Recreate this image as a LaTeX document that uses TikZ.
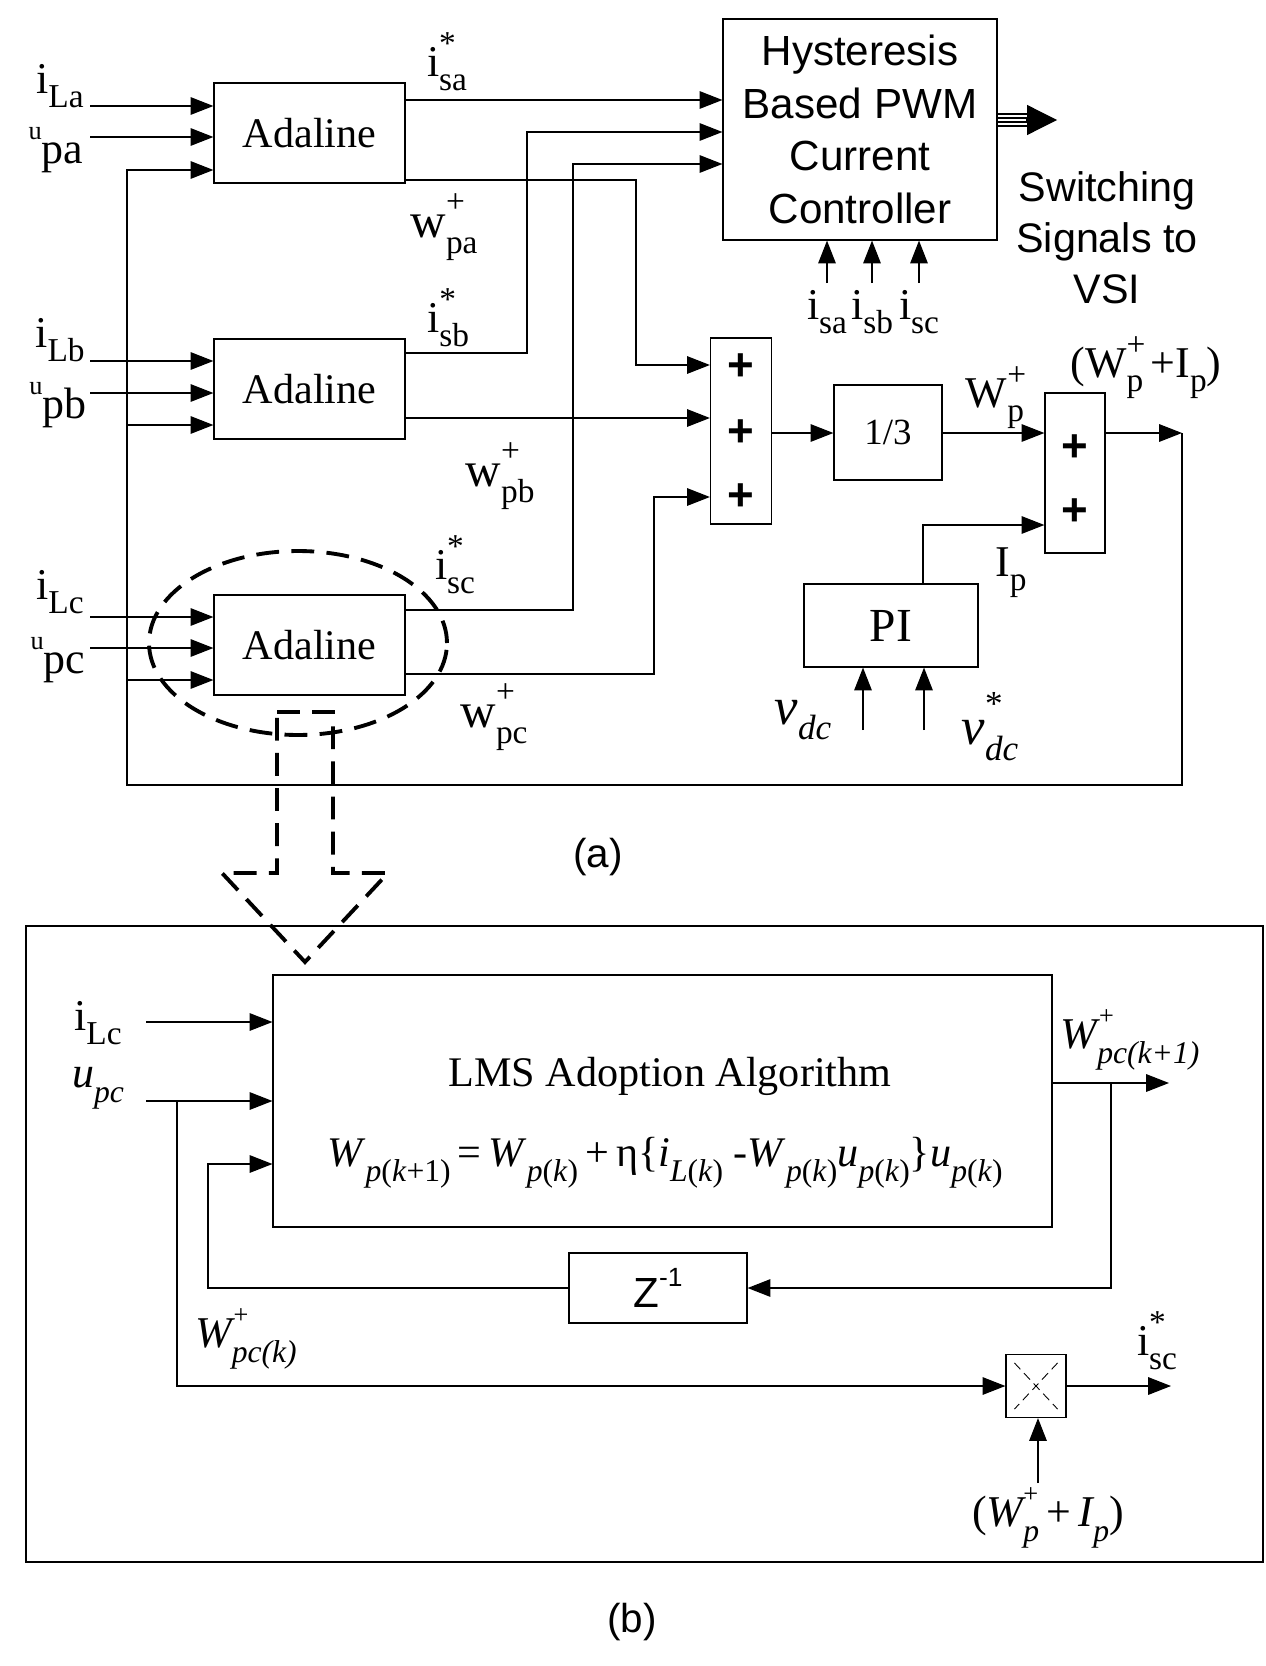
\documentclass[tikz,border=0pt]{standalone}
\usepackage{fontspec}
\setmainfont{Liberation Serif}
\newfontfamily\arialfont{Liberation Sans}
\usepackage{tikz}
\usetikzlibrary{arrows.meta,calc}
% signal names: base, raised mark, lowered index
\newcommand{\sigsub}[2]{#1\raisebox{-0.32em}{\fontsize{19}{19}\selectfont #2}}
\newcommand{\sigboth}[3]{#1\rlap{\raisebox{0.5em}{\fontsize{19}{19}\selectfont #2}}\raisebox{-0.32em}{\fontsize{19}{19}\selectfont #3}}
\newcommand{\fsub}[1]{\raisebox{-0.35em}{\fontsize{18}{18}\selectfont #1}}
\newcommand{\fsup}[1]{\rlap{\raisebox{0.55em}{\fontsize{15}{15}\selectfont #1}}}
\newcommand{\usig}[1]{{\fontsize{15}{15}\selectfont u}\raisebox{-0.55em}{#1}}

\begin{document}
\begin{tikzpicture}[x=0.02cm,y=-0.02cm,line width=0.7pt,
    >={Triangle[length=13pt,width=10pt]}]
  \tikzstyle{adalinebox}=[draw,minimum width=3.82cm,minimum height=2cm,
    font=\fontsize{24}{24}\selectfont]
  \tikzstyle{sumbox}=[draw,minimum width=1.22cm]
  \tikzstyle{plusmark}=[inner sep=0pt,font=\arialfont\bfseries\fontsize{26}{26}\selectfont]
  \tikzstyle{siglabel}=[inner sep=0pt,font=\fontsize{25}{25}\selectfont]
  \tikzstyle{bigdash}=[line width=2.2pt,dash pattern=on 13pt off 7pt]
  \useasboundingbox (0,0) rectangle (1266,1666);

  % ---------------- (a) ----------------
  \node[adalinebox] (adA) at (309.5,133) {Adaline};
  \node[adalinebox] (adB) at (309.5,389) {Adaline};
  \node[adalinebox] (adC) at (309.5,645) {Adaline};
  \node[draw,minimum width=5.48cm,minimum height=4.42cm,align=center,
    font=\arialfont\fontsize{24}{30}\selectfont] (hyst) at (860,129.5)
    {Hysteresis\\Based PWM\\Current\\Controller};
  \node[sumbox,minimum height=3.72cm] (sumA) at (741,431) {};
  \node[draw,minimum width=2.16cm,minimum height=1.9cm,
    font=\fontsize{21}{21}\selectfont] (third) at (888,432.5) {1/3};
  \node[sumbox,minimum width=1.2cm,minimum height=3.2cm] (sumB) at (1075,473) {};
  \node[draw,minimum width=3.48cm,minimum height=1.66cm,
    font=\fontsize{27}{27}\selectfont] (pi) at (891,625.5) {PI};

  \node[plusmark] (pA1) at (741,367) {+};
  \node[plusmark] (pA2) at (741,433) {+};
  \node[plusmark] (pA3) at (741,497) {+};
  \node[plusmark] (pB1) at (1075,448) {+};
  \node[plusmark] (pB2) at (1075,512) {+};

  % inputs of the three Adalines
  \node[siglabel] (iLa) at (60,86) {\sigsub{i}{La}};
  \node[siglabel] (upa) at (56,150) {\usig{pa}};
  \node[siglabel] (iLb) at (60,340) {\sigsub{i}{Lb}};
  \node[siglabel] (upb) at (58,405) {\usig{pb}};
  \node[siglabel] (iLc) at (60,592) {\sigsub{i}{Lc}};
  \node[siglabel] (upc) at (58,660) {\usig{pc}};
  \draw[->] (90,106) -- (adA.west |- 0,106);
  \draw[->] (90,137) -- (adA.west |- 0,137);
  \draw[->] (90,361) -- (adB.west |- 0,361);
  \draw[->] (90,393) -- (adB.west |- 0,393);
  \draw[->] (90,617) -- (adC.west |- 0,617);
  \draw[->] (90,648) -- (adC.west |- 0,648);

  % feedback bus
  \coordinate (fbk) at (1182,433);
  \coordinate (busR) at (1182,785);
  \coordinate (busL) at (127,785);
  \draw[->] (sumB.east |- fbk) -- (fbk);
  \draw[->] (fbk) -- (busR) -- (busL) -- (127,170) -- (adA.west |- 0,170);
  \draw[->] (127,425) -- (adB.west |- 0,425);
  \draw[->] (127,680) -- (adC.west |- 0,680);

  % Adaline outputs
  \draw[->] (adA.east |- 0,100) -- (hyst.west |- 0,100);
  \draw[->] (adA.east |- 0,180) -- (636,180) -- (636,365) -- (sumA.west |- 0,365);
  \draw[->] (adB.east |- 0,353) -- (527,353) -- (527,132) -- (hyst.west |- 0,132);
  \draw[->] (adB.east |- 0,418) -- (sumA.west |- 0,418);
  \draw[->] (adC.east |- 0,610) -- (573,610) -- (573,164) -- (hyst.west |- 0,164);
  \draw[->] (adC.east |- 0,674) -- (654,674) -- (654,497) -- (sumA.west |- 0,497);
  \node[siglabel] (lisa) at (447,62) {\sigboth{i}{*}{sa}};
  \node[siglabel] (lisb) at (448,318) {\sigboth{i}{*}{sb}};
  \node[siglabel] (lisc) at (455,565) {\sigboth{i}{*}{sc}};
  \node[siglabel,font=\fontsize{28}{28}\selectfont] (lwpa) at (444,227) {\sigboth{w}{+}{pa}};
  \node[siglabel,font=\fontsize{28}{28}\selectfont] (lwpb) at (500,476) {\sigboth{w}{+}{pb}};
  \node[siglabel,font=\fontsize{28}{28}\selectfont] (lwpc) at (494,717) {\sigboth{w}{+}{pc}};

  % summing chain
  \draw[->] (sumA.east |- 0,433) -- (third.west |- 0,433);
  \draw[->] (third.east |- 0,433) -- (sumB.west |- 0,433);
  \draw[->] (pi.north -| 923,0) -- (923,525) -- (sumB.west |- 0,525);
  \node[siglabel] (lwp) at (995,398) {\sigboth{W}{+}{p}};
  \node[siglabel] (lwi) at (1146,368) {(\sigboth{W}{+}{p}\,+I\raisebox{-0.32em}{\fontsize{19}{19}\selectfont p})};
  \node[siglabel] (lip) at (1011,573) {\sigsub{I}{p}};

  % dc link voltage
  \coordinate (vdcin) at (863,730);
  \coordinate (vrefin) at (924,730);
  \draw[->] (vdcin) -- (pi.south -| vdcin);
  \draw[->] (vrefin) -- (pi.south -| vrefin);
  \node[siglabel,font=\fontsize{30}{30}\selectfont\itshape] (lvdc) at (803,720)
    {v\raisebox{-0.3em}{\fontsize{20}{20}\selectfont dc}};
  \node[siglabel,font=\fontsize{30}{30}\selectfont\itshape] (lvref) at (990,727)
    {v\rlap{\raisebox{0.55em}{\fontsize{20}{20}\selectfont\upshape *}}\raisebox{-0.3em}{\fontsize{20}{20}\selectfont dc}};

  % measured currents
  \foreach \x/\n in {827/sa,872/sb,919/sc}{
    \coordinate (is\n) at (\x,283);
    \draw[->] (is\n) -- (hyst.south -| is\n);
    \node[siglabel] (lbl\n) at (\x,312) {\sigsub{i}{\n}};
  }

  % switching signals
  \coordinate (swout) at (1057,120);
  \foreach \dy in {-6,-2,2,6}
    \draw[line width=0.6pt] (hyst.east |- 0,120+\dy) -- (1030,120+\dy);
  \draw[-{Triangle[length=17pt,width=17pt]}] (1026,120) -- (swout);
  \node[align=center,font=\arialfont\fontsize{23.5}{29}\selectfont] (swtxt) at (1107,238)
    {Switching\\Signals to\\VSI};

  % zoom marker
  \draw[bigdash] (298,643) ellipse [x radius=2.98cm,y radius=1.84cm];
  \draw[bigdash] (277,712) -- (333,712) -- (333,873) -- (388,873) -- (305,962)
    -- (222,873) -- (277,873) -- cycle;
  \node[font=\arialfont\fontsize{23}{23}\selectfont] (capa) at (598,857) {(a)};

  % ---------------- (b) ----------------
  \draw (26,926) rectangle (1263,1562);
  \node[draw,minimum width=15.58cm,minimum height=5.04cm] (lms) at (662.5,1101) {};
  \node[font=\fontsize{24}{24}\selectfont] (lmstitle) at (670,1076) {LMS Adoption Algorithm};
  \node[font=\fontsize{24}{24}\selectfont] (lmseq) at (665,1163)
    {\textit{W}\fsub{\textit{p}(\textit{k}+1)}\,=\,\textit{W}\fsub{\textit{p}(\textit{k})}\,+\,η\{\textit{i}\fsub{\textit{L}(\textit{k})}
     -\textit{W}\fsub{\textit{p}(\textit{k})}\textit{u}\fsub{\textit{p}(\textit{k})}\}\textit{u}\fsub{\textit{p}(\textit{k})}};
  \node[draw,minimum width=3.56cm,minimum height=1.4cm,
    font=\arialfont\fontsize{24}{24}\selectfont] (zinv) at (658,1288)
    {Z\raisebox{0.5em}{\fontsize{15}{15}\selectfont -1}};
  \node[draw,minimum width=1.2cm,minimum height=1.26cm] (mult) at (1036,1386) {};
  \draw[line width=0.5pt,dash pattern=on 5pt off 3pt]
    ($(mult.north west)+(9,9)$) -- ($(mult.south east)+(-9,-9)$);
  \draw[line width=0.5pt,dash pattern=on 5pt off 3pt]
    ($(mult.north east)+(-9,9)$) -- ($(mult.south west)+(9,-9)$);

  \node[siglabel] (biLc) at (98,1023) {\sigsub{i}{Lc}};
  \node[siglabel,font=\fontsize{25}{25}\selectfont\itshape] (bupc) at (98,1088) {u\fsub{pc}};
  \coordinate (inI) at (146,1022);
  \coordinate (inU) at (146,1101);
  \draw[->] (inI) -- (lms.west |- inI);
  \draw[->] (inU) -- (lms.west |- inU);
  \draw[->] (zinv.west) -- (208,1288) -- (208,1164) -- (lms.west |- 0,1164);
  \coordinate (wout) at (1169,1083);
  \draw[->] (lms.east |- wout) -- (wout);
  \draw[->] (1111,1083) -- (1111,1288) -- (zinv.east);
  \coordinate (iscout) at (1171,1386);
  \draw[->] (177,1101) -- (177,1386) -- (mult.west);
  \draw[->] (mult.east) -- (iscout);
  \coordinate (wpin) at (1038,1483);
  \draw[->] (wpin) -- (mult.south -| wpin);

  \node[siglabel,font=\fontsize{25}{25}\selectfont\itshape] (lwk1) at (1130,1040)
    {W\fsup{+}\fsub{pc(k+1)}};
  \node[siglabel,font=\fontsize{25}{25}\selectfont\itshape] (lwk) at (246,1339)
    {W\fsup{+}\fsub{pc(k)}};
  \node[siglabel] (bisc) at (1157,1341) {\sigboth{i}{*}{sc}};
  \node[siglabel,font=\fontsize{25}{25}\selectfont\itshape] (bwi) at (1048,1518)
    {\upshape(\itshape W\fsup{\upshape+}\fsub{p}\,\upshape+\,\itshape I\fsub{p}\upshape)};
  \node[font=\arialfont\fontsize{23}{23}\selectfont] (capb) at (632,1622) {(b)};
\end{tikzpicture}
\end{document}
